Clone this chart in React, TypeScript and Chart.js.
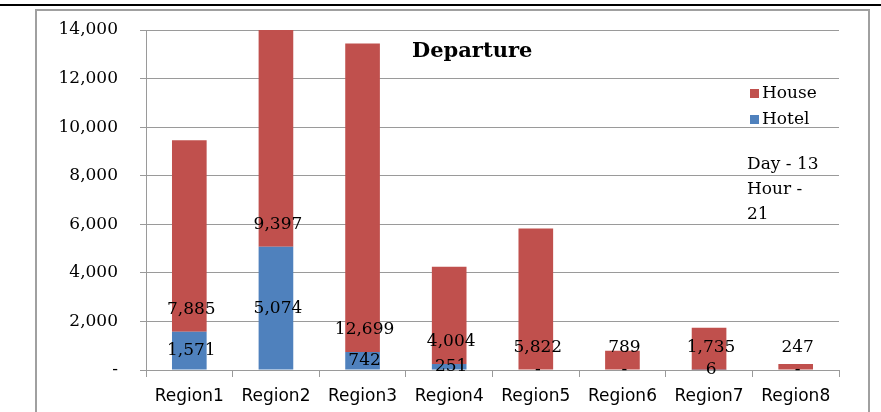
import React, { useEffect, useRef } from "react";
import { Chart, registerables } from "chart.js";

Chart.register(...registerables);

const categories = ["Region1", "Region2", "Region3", "Region4", "Region5", "Region6", "Region7", "Region8"];
const hotelValues = [1571, 5074, 742, 251, 0, 0, 6, 0];
const houseValues = [7885, 9397, 12699, 4004, 5822, 789, 1735, 247];
const yTicks = [0, 2000, 4000, 6000, 8000, 10000, 12000, 14000];
const titleText = "Departure";
const noteLines = ["Day - 13", "Hour -", "21"];

const RED = "#C0504D";
const BLUE = "#4F81BD";
const GRID = "#9a9a9a";
const SERIF = "'DejaVu Serif', serif";
const SANS = "'DejaVu Sans', sans-serif";

const fmt = (v: number) => (v === 0 ? "-" : v.toLocaleString("en-US"));

const framePlugin = {
  id: "frame",
  beforeDraw(chart: any) {
    const ctx = chart.ctx;
    ctx.save();
    ctx.fillStyle = "#ffffff";
    ctx.fillRect(0, 0, chart.width, chart.height);
    ctx.fillStyle = "#000000";
    ctx.fillRect(0, 4, chart.width, 2);
    ctx.strokeStyle = "#a0a0a0";
    ctx.lineWidth = 2;
    ctx.strokeRect(36, 10, 833, 600);
    ctx.restore();
  },
};

const labelsPlugin = {
  id: "barLabels",
  afterDatasetsDraw(chart: any) {
    const ctx = chart.ctx;
    ctx.save();
    ctx.font = `17px ${SERIF}`;
    ctx.fillStyle = "#000000";
    ctx.textAlign = "center";
    ctx.textBaseline = "middle";
    chart.data.datasets.forEach((ds: any, di: number) => {
      const meta = chart.getDatasetMeta(di);
      meta.data.forEach((el: any, i: number) => {
        const v = ds.data[i];
        const txt = fmt(v);
        let y;
        if (di === 0) {
          y = (el.y + el.base) / 2;
        } else {
          y = el.base - 22;
        }
        ctx.fillText(txt, el.x + 2, y);
      });
    });
    ctx.restore();
  },
};

const overlayPlugin = {
  id: "overlay",
  afterDraw(chart: any) {
    const ctx = chart.ctx;
    ctx.save();
    ctx.fillStyle = "#000000";
    ctx.textBaseline = "alphabetic";
    ctx.textAlign = "left";
    ctx.font = `bold 21px ${SERIF}`;
    ctx.fillText(titleText, 412, 57);

    // legend: House then Hotel
    const items = [
      { label: chart.data.datasets[1].label, color: chart.data.datasets[1].backgroundColor, y: 98 },
      { label: chart.data.datasets[0].label, color: chart.data.datasets[0].backgroundColor, y: 124 },
    ];
    ctx.font = `17px ${SERIF}`;
    items.forEach((it) => {
      ctx.fillStyle = it.color;
      ctx.fillRect(750, it.y - 9, 9, 9);
      ctx.fillStyle = "#000000";
      ctx.fillText(it.label, 762, it.y);
    });

    ctx.font = `17px ${SERIF}`;
    noteLines.forEach((line, i) => {
      ctx.fillText(line, 747, 169 + i * 25);
    });
    ctx.restore();
  },
};

export default function App() {
  const ref = useRef<HTMLCanvasElement | null>(null);

  useEffect(() => {
    if (!ref.current) return;
    const chart = new Chart(ref.current, {
      type: "bar",
      data: {
        labels: categories,
        datasets: [
          { label: "Hotel", data: hotelValues, backgroundColor: BLUE, borderWidth: 0 },
          { label: "House", data: houseValues, backgroundColor: RED, borderWidth: 0 },
        ],
      },
      options: {
        animation: false,
        responsive: false,
        devicePixelRatio: 1,
        layout: { padding: { left: 0, right: 42, top: 30, bottom: 0 } },
        datasets: { bar: { barPercentage: 0.4, categoryPercentage: 1 } },
        plugins: {
          legend: { display: false },
          title: { display: false },
          tooltip: { enabled: false },
        },
        scales: {
          x: {
            stacked: true,
            grid: {
              display: true,
              drawOnChartArea: false,
              drawTicks: true,
              tickLength: 7,
              offset: true,
              color: GRID,
            },
            border: { display: true, color: GRID },
            ticks: {
              color: "#000000",
              font: { family: SANS, size: 17 },
              padding: 9,
              maxRotation: 0,
              autoSkip: false,
            },
            afterFit: (scale: any) => {
              scale.height = 42;
            },
          },
          y: {
            stacked: true,
            min: 0,
            max: 14000,
            afterBuildTicks: (scale: any) => {
              scale.ticks = yTicks.map((v) => ({ value: v }));
            },
            grid: { color: GRID, drawTicks: true, tickLength: 6 },
            border: { display: true, color: GRID },
            ticks: {
              color: "#000000",
              font: { family: SERIF, size: 17 },
              padding: 22,
              callback: (v: any) => fmt(Number(v)),
            },
            afterFit: (scale: any) => {
              scale.width = 146;
              scale.paddingTop = 0;
              scale.paddingBottom = 0;
            },
          },
        },
      },
      plugins: [framePlugin, labelsPlugin, overlayPlugin],
    });
    return () => chart.destroy();
  }, []);

  return (
    <div style={{ position: "fixed", left: 0, top: 0, width: 881, height: 412, background: "#fff" }}>
      <canvas ref={ref} width={881} height={412} style={{ display: "block", width: 881, height: 412 }} />
    </div>
  );
}
